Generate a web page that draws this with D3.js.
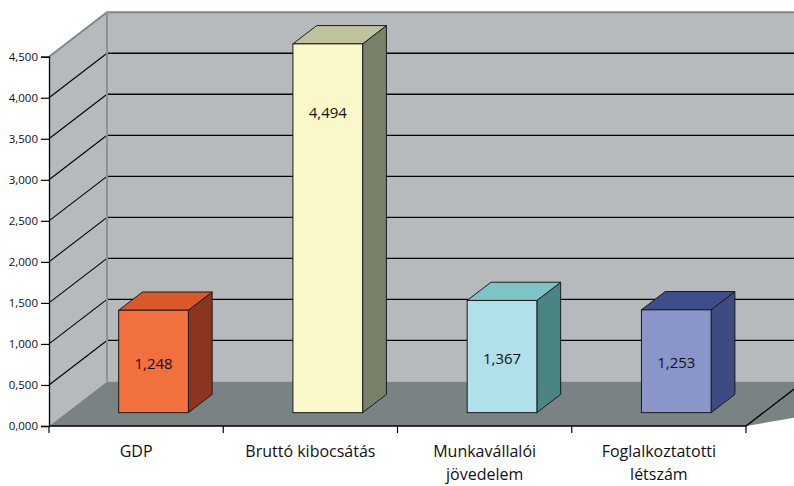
<!DOCTYPE html>
<meta charset="utf-8">
<title>GDP chart</title>
<style>
  body { margin: 0; background: #fff; }
  text { font-family: "Open Sans", sans-serif; fill: #111; }
  .tick-label { font-size: 11.5px; }
  .cat-label { font-size: 16px; }
  .val-label { font-size: 15px; }
</style>
<body>
<script src="https://d3js.org/d3.v7.min.js"></script>
<script>
  // data
  var categories = [["GDP"], ["Bruttó kibocsátás"], ["Munkavállalói", "jövedelem"], ["Foglalkoztatotti", "létszám"]];
  var values = [1.248, 4.494, 1.367, 1.253];
  var yTicks = [0, 0.5, 1, 1.5, 2, 2.5, 3, 3.5, 4, 4.5];

  // colours per bar: front, top, side
  var palette = [
    ["#F2703E", "#DD5828", "#8A3520"],
    ["#FAF8C8", "#BEC39E", "#7A816A"],
    ["#B0E0EA", "#7EC4C6", "#4A8583"],
    ["#8A96CA", "#3E4E88", "#3D4C80"]
  ];

  var width = 794, height = 486;
  var left = 49, right = 746, base = 426;
  var depth = [58, -44.5];          // wall depth vector
  var barFront = 0.3, barBack = 0.71; // bar position along depth

  var hu = d3.formatLocale({ decimal: ",", thousands: " ", grouping: [3], currency: ["", " Ft"] });
  var fmt = hu.format(".3f");

  var x = d3.scaleBand()
      .domain(d3.range(categories.length))
      .range([left, right])
      .paddingInner(0.6)
      .paddingOuter(0.3);

  var y = d3.scaleLinear()
      .domain([0, 4.5])
      .range([base, 56.7]);

  var svg = d3.select("body").append("svg")
      .attr("width", width)
      .attr("height", height);

  var bx = left + depth[0], by = base + depth[1];
  var topY = y(4.5) + depth[1];

  // back wall
  svg.append("rect")
      .attr("x", bx).attr("y", topY)
      .attr("width", 900).attr("height", by - topY)
      .attr("fill", "#B7BABD");

  // left wall
  svg.append("path")
      .attr("d", d3.line()([[left, y(4.5)], [bx, topY], [bx, by], [left, base]]) + "Z")
      .attr("fill", "#B7BABD");

  // floor
  svg.append("path")
      .attr("d", d3.line()([[left, base], [bx, by], [right + depth[0] + 200, by], [right, base]]) + "Z")
      .attr("fill", "#7A8383");

  // gridlines
  var grid = yTicks.filter(function(t) { return t > 0 && t < 4.5; });
  svg.selectAll("line.gback").data(grid).enter().append("line")
      .attr("x1", bx).attr("x2", width)
      .attr("y1", function(d) { return y(d) + depth[1]; })
      .attr("y2", function(d) { return y(d) + depth[1]; })
      .attr("stroke", "#000").attr("stroke-width", 1.3);
  svg.selectAll("line.gleft").data(grid).enter().append("line")
      .attr("x1", left).attr("x2", bx)
      .attr("y1", function(d) { return y(d); })
      .attr("y2", function(d) { return y(d) + depth[1]; })
      .attr("stroke", "#000").attr("stroke-width", 1.1);

  // wall edges
  svg.append("path")
      .attr("d", d3.line()([[left, y(4.5)], [bx, topY], [width, topY]]))
      .attr("fill", "none").attr("stroke", "#808989").attr("stroke-width", 2);
  svg.append("line")
      .attr("x1", bx).attr("x2", bx).attr("y1", topY).attr("y2", by)
      .attr("stroke", "#8A9292").attr("stroke-width", 2);

  // floor front edges
  svg.append("path")
      .attr("d", d3.line()([[left, base], [right, base], [right + depth[0], by]]))
      .attr("fill", "none").attr("stroke", "#000").attr("stroke-width", 1.3);

  // axes
  var yAxis = d3.axisLeft(y).tickValues(yTicks).tickFormat(fmt).tickSize(8).tickPadding(3);
  var ya = svg.append("g").attr("transform", "translate(" + left + ",0)").call(yAxis);
  ya.select(".domain").attr("stroke", "#000").attr("stroke-width", 1.3);
  ya.selectAll(".tick line").attr("stroke", "#000").attr("stroke-width", 1.2);
  ya.selectAll(".tick text").attr("class", "tick-label").attr("font-family", null).attr("font-size", null).attr("fill", "#111");

  // category ticks
  var bounds = d3.range(categories.length + 1).map(function(i) { return left + i * x.step(); });
  svg.selectAll("line.ctick").data(bounds).enter().append("line")
      .attr("x1", function(d) { return d; }).attr("x2", function(d) { return d; })
      .attr("y1", base).attr("y2", base + 7)
      .attr("stroke", "#000").attr("stroke-width", 1.2);

  // bars
  var fx = depth[0] * barFront, fy = depth[1] * barFront;
  var dx = depth[0] * (barBack - barFront), dy = depth[1] * (barBack - barFront);
  var bars = svg.selectAll("g.bar").data(values).enter().append("g").attr("class", "bar");

  bars.each(function(v, i) {
    var g = d3.select(this);
    var xl = x(i) + fx, xr = xl + x.bandwidth();
    var yb = base + fy, yt = y(v) + fy;
    var c = palette[i];
    g.append("path")
        .attr("d", d3.line()([[xr, yt], [xr + dx, yt + dy], [xr + dx, yb + dy], [xr, yb]]) + "Z")
        .attr("fill", c[2]).attr("stroke", "#1a1a1a").attr("stroke-width", 1);
    g.append("path")
        .attr("d", d3.line()([[xl, yt], [xl + dx, yt + dy], [xr + dx, yt + dy], [xr, yt]]) + "Z")
        .attr("fill", c[1]).attr("stroke", "#1a1a1a").attr("stroke-width", 1);
    g.append("rect")
        .attr("x", xl).attr("y", yt)
        .attr("width", x.bandwidth()).attr("height", yb - yt)
        .attr("fill", c[0]).attr("stroke", "#1a1a1a").attr("stroke-width", 1);
    g.append("text")
        .attr("class", "val-label")
        .attr("x", (xl + xr) / 2)
        .attr("y", Math.min((yt + yb) / 2 + 2, yt + 69))
        .attr("dy", "0.35em")
        .attr("text-anchor", "middle")
        .text(fmt(v));
  });

  // category labels
  svg.selectAll("text.cat-label").data(categories).enter().append("text")
      .attr("class", "cat-label")
      .attr("text-anchor", "middle")
      .attr("transform", function(d, i) { return "translate(" + (x(i) + x.bandwidth() / 2) + ",457)"; })
      .selectAll("tspan").data(function(d) { return d; }).enter().append("tspan")
      .attr("x", 0)
      .attr("y", function(d, j) { return j * 23; })
      .text(function(d) { return d; });
</script>
</body>
</html>
